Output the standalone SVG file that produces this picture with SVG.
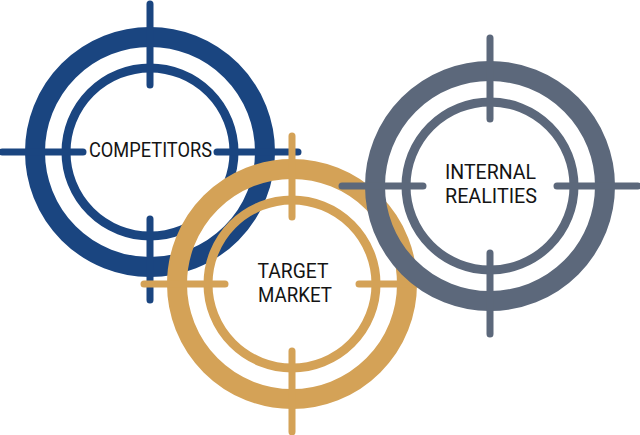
<svg xmlns="http://www.w3.org/2000/svg" width="640" height="435" viewBox="0 0 640 435">
  <style>
    .ring-outer { fill: none; stroke-width: 20; }
    .ring-inner { fill: none; stroke-width: 9; }
    .hair { stroke-width: 7; stroke-linecap: round; fill: none; }
    .blue { stroke: #1a4580; }
    .gold { stroke: #d4a257; }
    .gray { stroke: #5c687b; }
    .label { font-family: Roboto, "Liberation Sans", sans-serif; font-size: 19.5px; fill: #141414; text-anchor: middle; }
  </style>
  <defs>
    <g id="target">
      <circle class="ring-outer" cx="0" cy="0" r="115"/>
      <circle class="ring-inner" cx="0" cy="0" r="84"/>
      <path class="hair" d="M0,-148 V-67 M0,67 V148 M-148,0 H-67 M67,0 H148"/>
    </g>
  </defs>
  <rect width="640" height="435" fill="#ffffff"/>
  <g id="competitors" transform="translate(150,152)">
    <use href="#target" class="blue"/>
    <text class="label" x="0.5" y="5" textLength="123" lengthAdjust="spacingAndGlyphs">COMPETITORS</text>
  </g>
  <g id="target-market" transform="translate(292,284)">
    <use href="#target" class="gold"/>
    <text class="label" x="1" y="-5.7" textLength="71" lengthAdjust="spacingAndGlyphs">TARGET</text>
    <text class="label" x="3" y="17.7" textLength="74" lengthAdjust="spacingAndGlyphs">MARKET</text>
  </g>
  <g id="internal-realities" transform="translate(490,186)">
    <use href="#target" class="gray"/>
    <text class="label" x="0.5" y="-6.7" textLength="91" lengthAdjust="spacingAndGlyphs">INTERNAL</text>
    <text class="label" x="1" y="17.3" textLength="92" lengthAdjust="spacingAndGlyphs">REALITIES</text>
  </g>
  <g id="connectors"></g>
</svg>
